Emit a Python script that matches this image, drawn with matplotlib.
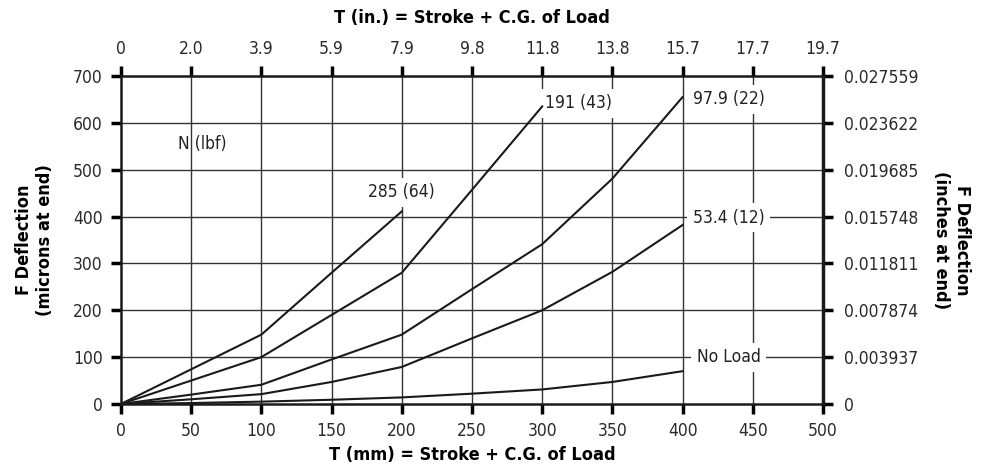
import numpy as np
import matplotlib
matplotlib.use("Agg")
import matplotlib.pyplot as plt
from matplotlib import font_manager

names = {f.name for f in font_manager.fontManager.ttflist}
family = ["Liberation Sans Narrow"] if "Liberation Sans Narrow" in names else []
plt.rcParams["font.family"] = family + ["DejaVu Sans"]
plt.rcParams["font.stretch"] = "condensed"

# stroke + C.G. of load (mm)
t_mm = [0, 50, 100, 150, 200, 250, 300, 350, 400]

# deflection (microns at end) per load
defl_285 = [0, 74, 148, 280, 411]
defl_191 = [0, 50, 100, 190, 280, 457, 635]
defl_97 = [0, 20, 41, 95, 148, 245, 341, 481, 655]
defl_53 = [0, 10, 21, 47, 79, 140, 200, 282, 382]
defl_none = [0, 2, 5, 9, 14, 22, 31, 47, 70]

labels = ["285 (64)", "191 (43)", "97.9 (22)", "53.4 (12)", "No Load"]
label_xy = [(200, 452), (326, 642), (433, 650), (433, 398), (433, 100)]

x_ticks = [0, 50, 100, 150, 200, 250, 300, 350, 400, 450, 500]
top_tick_labels = ["0", "2.0", "3.9", "5.9", "7.9", "9.8", "11.8", "13.8", "15.7", "17.7", "19.7"]
y_ticks = [0, 100, 200, 300, 400, 500, 600, 700]
right_tick_labels = ["0", "0.003937", "0.007874", "0.011811", "0.015748",
                     "0.019685", "0.023622", "0.027559"]

fig = plt.figure(figsize=(9.85, 4.71), dpi=100)
ax = fig.add_axes([0.1228, 0.1423, 0.7127, 0.6963])

ax.set_xlim(0, 500)
ax.set_ylim(0, 700)

for x in x_ticks[1:-1]:
    ax.axvline(x, color="#333333", lw=1, zorder=1)
for y in y_ticks[1:-1]:
    ax.axhline(y, color="#333333", lw=1, zorder=1)

series = [defl_285, defl_191, defl_97, defl_53, defl_none]
for d in series:
    ax.plot(t_mm[:len(d)], d, color="#1a1a1a", lw=1.5, zorder=5)

for lab, (lx, ly) in zip(labels, label_xy):
    ax.text(lx, ly, lab, ha="center", va="center", fontsize=12.5, color="#222222",
            bbox=dict(facecolor="white", edgecolor="none", pad=4), zorder=4)
ax.text(58, 555, "N (lbf)", ha="center", va="center", fontsize=12.5,
        color="#222222", zorder=4)

ax.set_xticks(x_ticks)
ax.set_yticks(y_ticks)
ax.tick_params(axis="both", which="major", direction="out", length=7, width=2.5,
               labelsize=12.5, labelcolor="#2a2a2a", pad=6)
for s in ax.spines.values():
    s.set_linewidth(1.8)
    s.set_color("#1a1a1a")
ax.spines["right"].set_linewidth(2.5)

ax.set_xlabel("T (mm) = Stroke + C.G. of Load", fontsize=13, fontweight="bold", labelpad=4)
ax.set_ylabel("F Deflection\n(microns at end)", fontsize=13, fontweight="bold", labelpad=14)

top = ax.secondary_xaxis("top")
top.set_xticks(x_ticks)
top.set_xticklabels(top_tick_labels)
top.tick_params(direction="out", length=7, width=2.5, labelsize=12.5,
                labelcolor="#2a2a2a", pad=6)
top.set_xlabel("T (in.) = Stroke + C.G. of Load", fontsize=13, fontweight="bold", labelpad=12)

right = ax.secondary_yaxis("right")
right.set_yticks(y_ticks)
right.set_yticklabels(right_tick_labels)
right.tick_params(direction="out", length=7, width=2.5, labelsize=12.5,
                  labelcolor="#2a2a2a", pad=8)
right.set_ylabel("F Deflection\n(inches at end)", fontsize=13, fontweight="bold",
                 rotation=270, labelpad=38)

fig.savefig("out.png", dpi=100)
